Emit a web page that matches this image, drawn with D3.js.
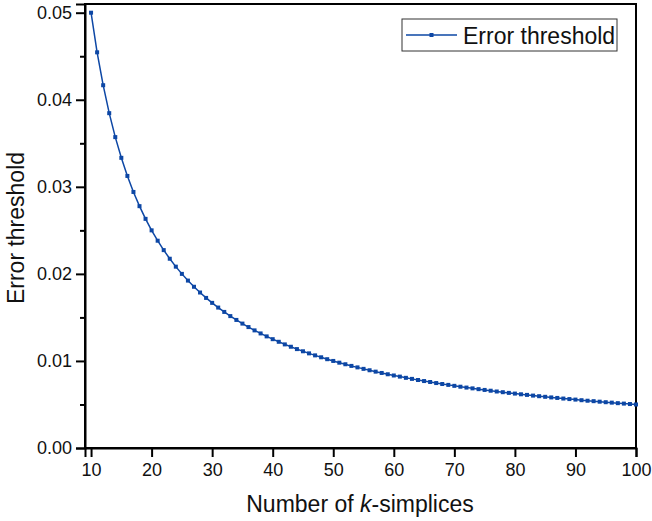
<!DOCTYPE html>
<html>
<head>
<meta charset="utf-8">
<script src="https://cdn.jsdelivr.net/npm/d3@7"></script>
<style>
  body { margin: 0; background: #fff; }
  svg { font-family: "Liberation Sans", Arial, sans-serif; }
  .tick text { font-size: 18px; fill: #111; }
</style>
</head>
<body>
<svg width="652" height="521"></svg>
<script>
// number of k-simplices
const kValues = [10, 11, 12, 13, 14, 15, 16, 17, 18, 19, 20, 21, 22, 23, 24, 25, 26, 27, 28, 29,
	30, 31, 32, 33, 34, 35, 36, 37, 38, 39, 40, 41, 42, 43, 44, 45, 46, 47, 48, 49,
	50, 51, 52, 53, 54, 55, 56, 57, 58, 59, 60, 61, 62, 63, 64, 65, 66, 67, 68, 69,
	70, 71, 72, 73, 74, 75, 76, 77, 78, 79, 80, 81, 82, 83, 84, 85, 86, 87, 88, 89,
	90, 91, 92, 93, 94, 95, 96, 97, 98, 99, 100]

// error threshold
const errorValues = [0.05, 0.04545, 0.04167, 0.03846, 0.03571, 0.03333, 0.03125, 0.02941, 0.02778, 0.02632,
	0.025, 0.02381, 0.02273, 0.02174, 0.02083, 0.02, 0.01923, 0.01852, 0.01786, 0.01724,
	0.01667, 0.01613, 0.01563, 0.01515, 0.01471, 0.01429, 0.01389, 0.01351, 0.01316, 0.01282,
	0.0125, 0.0122, 0.0119, 0.01163, 0.01136, 0.01111, 0.01087, 0.01064, 0.01042, 0.0102,
	0.01, 0.0098, 0.00962, 0.00943, 0.00926, 0.00909, 0.00893, 0.00877, 0.00862, 0.00847,
	0.00833, 0.0082, 0.00806, 0.00794, 0.00781, 0.00769, 0.00758, 0.00746, 0.00735, 0.00725,
	0.00714, 0.00704, 0.00694, 0.00685, 0.00676, 0.00667, 0.00658, 0.00649, 0.00641, 0.00633,
	0.00625, 0.00617, 0.0061, 0.00602, 0.00595, 0.00588, 0.00581, 0.00575, 0.00568, 0.00562,
	0.00556, 0.00549, 0.00543, 0.00538, 0.00532, 0.00526, 0.00521, 0.00515, 0.0051, 0.00505,
	0.005]

const xTicks = [10, 20, 30, 40, 50, 60, 70, 80, 90, 100]
const yTicks = [0, 0.01, 0.02, 0.03, 0.04, 0.05]
const yMinorTicks = [0.005, 0.015, 0.025, 0.035, 0.045]
const seriesName = "Error threshold"

const data = kValues.map((k, i) => ({ k: k, v: errorValues[i] }))

const svg = d3.select("svg")
const plotLeft = 85, plotRight = 636, plotTop = 4, plotBottom = 448
const color = "#0d47a5"

const x = d3.scaleLinear().domain([9, 100]).range([plotLeft, plotRight])
const y = d3.scaleLinear().domain([0, 0.051]).range([plotBottom, plotTop])

// frame (top and right)
svg.append("rect")
	.attr("x", plotLeft)
	.attr("y", plotTop)
	.attr("width", plotRight - plotLeft)
	.attr("height", plotBottom - plotTop)
	.attr("fill", "none")
	.attr("stroke", "#000")
	.attr("stroke-width", 2)

// x axis
const xAxis = svg.append("g")
	.attr("transform", "translate(0," + plotBottom + ")")
	.call(d3.axisBottom(x).tickValues(xTicks).tickSize(9).tickPadding(6).tickFormat(d3.format("d")))
xAxis.select(".domain").attr("stroke-width", 2)
xAxis.selectAll(".tick line").attr("stroke-width", 2)

// y axis, minor ticks first
svg.append("g")
	.attr("transform", "translate(" + plotLeft + ",0)")
	.call(d3.axisLeft(y).tickValues(yMinorTicks).tickSize(5).tickFormat(""))
	.call(g => g.select(".domain").remove())
	.selectAll(".tick line").attr("stroke-width", 2)

const yAxis = svg.append("g")
	.attr("transform", "translate(" + plotLeft + ",0)")
	.call(d3.axisLeft(y).tickValues(yTicks).tickSize(9).tickPadding(4).tickFormat(d3.format(".2f")))
yAxis.select(".domain").attr("stroke-width", 2)
yAxis.selectAll(".tick line").attr("stroke-width", 2)

// curve
const line = d3.line()
	.x(d => x(d.k))
	.y(d => y(d.v))

svg.append("path")
	.datum(data)
	.attr("d", line)
	.attr("fill", "none")
	.attr("stroke", color)
	.attr("stroke-width", 1.5)

svg.append("g")
	.selectAll("rect")
	.data(data)
	.enter()
	.append("rect")
	.attr("x", d => x(d.k) - 2)
	.attr("y", d => y(d.v) - 2)
	.attr("width", 4)
	.attr("height", 4)
	.attr("fill", color)

// axis titles
svg.append("text")
	.attr("x", 360)
	.attr("y", 512)
	.attr("text-anchor", "middle")
	.attr("font-size", 23)
	.attr("fill", "#111")
	.call(t => {
		t.append("tspan").text("Number of ")
		t.append("tspan").attr("font-style", "italic").text("k")
		t.append("tspan").text("-simplices")
	})

svg.append("text")
	.attr("transform", "translate(24,228) rotate(-90)")
	.attr("text-anchor", "middle")
	.attr("font-size", 23)
	.attr("fill", "#111")
	.text("Error threshold")

// legend
const legend = svg.append("g").attr("transform", "translate(402,19)")
legend.append("rect")
	.attr("width", 215)
	.attr("height", 32)
	.attr("fill", "#fff")
	.attr("stroke", "#333")
	.attr("stroke-width", 1)
legend.append("line")
	.attr("x1", 4).attr("x2", 55)
	.attr("y1", 16).attr("y2", 16)
	.attr("stroke", color)
	.attr("stroke-width", 1.5)
legend.append("rect")
	.attr("x", 27.5).attr("y", 14)
	.attr("width", 4).attr("height", 4)
	.attr("fill", color)
legend.append("text")
	.attr("x", 61)
	.attr("y", 24.5)
	.attr("font-size", 23)
	.attr("fill", "#111")
	.text(seriesName)
</script>
</body>
</html>
